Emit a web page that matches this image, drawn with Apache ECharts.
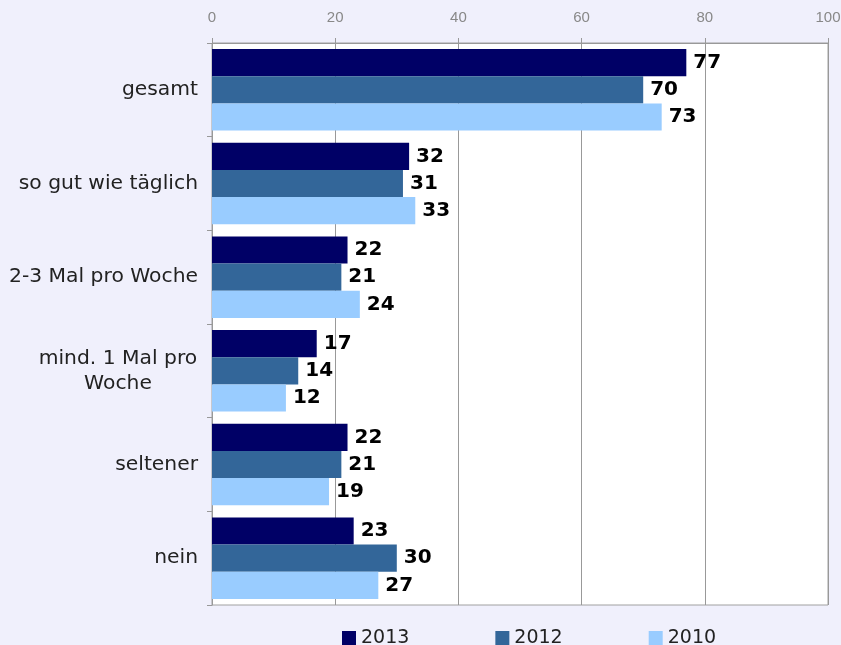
<!DOCTYPE html>
<html>
<head>
<meta charset="utf-8">
<script src="https://cdn.jsdelivr.net/npm/echarts@6/dist/echarts.min.js"></script>
<style>
  html, body { margin: 0; padding: 0; background: #f0f0fc; }
  #chart { width: 841px; height: 645px; }
</style>
</head>
<body>
<div id="chart"></div>
<script>
var categories = ['gesamt', 'so gut wie täglich', '2-3 Mal pro Woche', 'mind. 1 Mal pro Woche', 'seltener', 'nein'];
var years = ['2013', '2012', '2010'];
var v2013 = [77, 32, 22, 17, 22, 23];
var v2012 = [70, 31, 21, 14, 21, 30];
var v2010 = [73, 33, 24, 12, 19, 27];
var xTicks = [0, 20, 40, 60, 80, 100];

var colors = ['#000066', '#336699', '#99ccff'];

// Balken-Serie anlegen
function makeSeries(name, data, color) {
  return {
    name: name,
    type: 'bar',
    data: data,
    barGap: '0%',
    barCategoryGap: '13%',
    itemStyle: {color: color},
    label: {
      show: true,
      position: 'right',
      distance: 7,
      color: '#000',
      fontWeight: 'bold',
      fontSize: 20,
      fontFamily: 'DejaVu Sans'
    }
  };
}

var myChart = echarts.init(document.getElementById('chart'));
var option = {
  backgroundColor: '#f0f0fc',
  animation: false,
  color: colors,
  grid: {
    left: 212, right: 13, top: 43, bottom: 40,
    outerBoundsMode: 'none',
    show: true, backgroundColor: '#fff', borderColor: '#a0a0a0', borderWidth: 1
  },
  legend: {
    data: years,
    bottom: -3,
    left: 342,
    padding: 0,
    itemWidth: 14,
    itemHeight: 15,
    itemGap: 86,
    icon: 'rect',
    textStyle: {fontSize: 19, color: '#222', fontFamily: 'DejaVu Sans'}
  },
  xAxis: {
    type: 'value',
    position: 'top',
    min: xTicks[0],
    max: xTicks[xTicks.length - 1],
    interval: 20,
    axisLine: {show: true, lineStyle: {color: '#999'}},
    axisTick: {show: true, length: 5, lineStyle: {color: '#999'}},
    axisLabel: {color: '#888', fontSize: 15, margin: 18, fontFamily: 'Liberation Sans'},
    splitLine: {show: true, lineStyle: {color: '#999'}}
  },
  yAxis: {
    type: 'category',
    data: categories,
    inverse: true,
    axisLine: {show: true, lineStyle: {color: '#999'}},
    axisTick: {show: true, length: 5, lineStyle: {color: '#999'}},
    axisLabel: {
      color: '#222',
      fontSize: 20.3,
      margin: 14,
      fontFamily: 'DejaVu Sans',
      formatter: function (v) {
        if (v === 'mind. 1 Mal pro Woche') {
          return '{c|mind. 1 Mal pro}\n{c|Woche}';
        }
        return v;
      },
      rich: {
        c: {width: 160, align: 'center', fontSize: 20.3, color: '#222', fontFamily: 'DejaVu Sans', lineHeight: 25}
      }
    }
  },
  series: [
    makeSeries(years[0], v2013, colors[0]),
    makeSeries(years[1], v2012, colors[1]),
    makeSeries(years[2], v2010, colors[2])
  ]
};
myChart.setOption(option, true);
</script>
</body>
</html>
